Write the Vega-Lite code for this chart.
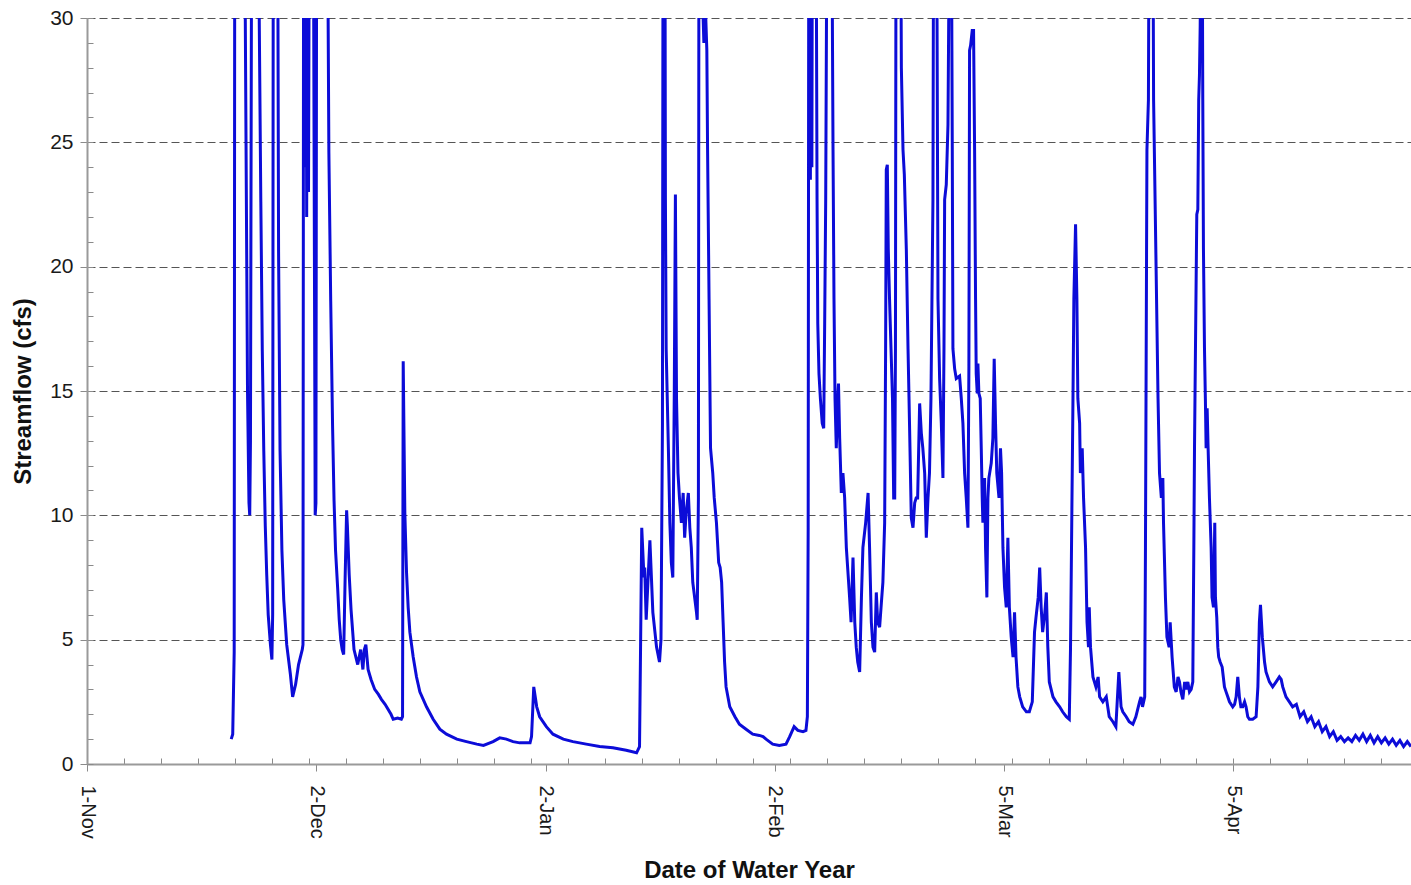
{
  "$schema": "https://vega.github.io/schema/vega-lite/v6.json",
  "width": 1324,
  "height": 746,
  "autosize": {"type": "none"},
  "padding": {"left": 87, "top": 18, "right": 0, "bottom": 121},
  "background": "white",
  "config": {"view": {"stroke": null}, "font": "Liberation Sans"},
  "data": {"values": [
    {"day":19.5,"flow":1.0},{"day":19.7,"flow":1.2},{"day":19.9,"flow":4.5},{"day":20.0,"flow":45},{"day":20.5,"flow":50},{"day":21.0,"flow":45},
    {"day":21.3,"flow":35},{"day":21.5,"flow":25},{"day":21.7,"flow":15},{"day":21.9,"flow":10.5},{"day":22.0,"flow":10},{"day":22.1,"flow":13},
    {"day":22.3,"flow":40},{"day":22.8,"flow":45},{"day":23.2,"flow":33},{"day":23.3,"flow":29.5},{"day":23.5,"flow":22.6},{"day":23.7,"flow":16.6},
    {"day":23.9,"flow":12.6},{"day":24.1,"flow":9.6},{"day":24.3,"flow":7.6},{"day":24.5,"flow":6.0},{"day":24.8,"flow":4.8},{"day":25.0,"flow":4.2},
    {"day":25.1,"flow":6},{"day":25.2,"flow":40},{"day":25.5,"flow":50},{"day":25.8,"flow":32},{"day":25.9,"flow":20.6},{"day":26.1,"flow":12.6},
    {"day":26.35,"flow":8.6},{"day":26.6,"flow":6.6},{"day":27.0,"flow":4.8},{"day":27.5,"flow":3.6},{"day":27.8,"flow":2.7},{"day":28.2,"flow":3.2},
    {"day":28.6,"flow":4.0},{"day":29.1,"flow":4.6},{"day":29.2,"flow":4.8},{"day":29.3,"flow":40},{"day":29.5,"flow":24},{"day":29.6,"flow":40},
    {"day":29.7,"flow":22},{"day":29.8,"flow":38},{"day":29.95,"flow":23},{"day":30.1,"flow":40},{"day":30.3,"flow":45},{"day":30.6,"flow":35},
    {"day":30.75,"flow":20},{"day":30.85,"flow":10},{"day":30.95,"flow":10.5},{"day":31.05,"flow":35},{"day":31.3,"flow":45},{"day":32.0,"flow":50},
    {"day":32.5,"flow":35},{"day":32.6,"flow":30},{"day":32.7,"flow":24.6},{"day":32.95,"flow":18.6},{"day":33.2,"flow":13.6},{"day":33.4,"flow":10.6},
    {"day":33.6,"flow":8.6},{"day":33.9,"flow":7.0},{"day":34.1,"flow":5.8},{"day":34.3,"flow":5.0},{"day":34.5,"flow":4.6},{"day":34.7,"flow":4.4},
    {"day":34.9,"flow":7.5},{"day":35.1,"flow":10.2},{"day":35.2,"flow":9.6},{"day":35.45,"flow":7.6},{"day":35.7,"flow":6.2},{"day":36.1,"flow":4.6},
    {"day":36.6,"flow":4.0},{"day":37.0,"flow":4.6},{"day":37.3,"flow":3.8},{"day":37.5,"flow":4.6},{"day":37.7,"flow":4.8},{"day":38.0,"flow":3.8},
    {"day":38.4,"flow":3.4},{"day":38.9,"flow":3.0},{"day":39.4,"flow":2.8},{"day":39.8,"flow":2.6},{"day":40.3,"flow":2.4},{"day":40.7,"flow":2.2},
    {"day":41.1,"flow":2.0},{"day":41.4,"flow":1.8},{"day":42.0,"flow":1.85},{"day":42.5,"flow":1.8},{"day":42.66,"flow":1.9},{"day":42.75,"flow":16.2},
    {"day":42.97,"flow":10.1},{"day":43.2,"flow":7.7},{"day":43.42,"flow":6.3},{"day":43.65,"flow":5.3},{"day":44.1,"flow":4.3},{"day":44.55,"flow":3.5},
    {"day":45.0,"flow":2.9},{"day":45.9,"flow":2.3},{"day":46.8,"flow":1.8},{"day":47.7,"flow":1.4},{"day":48.6,"flow":1.2},{"day":50.0,"flow":1.0},
    {"day":51.3,"flow":0.9},{"day":52.7,"flow":0.8},{"day":53.6,"flow":0.75},{"day":54.9,"flow":0.9},{"day":55.8,"flow":1.05},{"day":56.7,"flow":1.0},
    {"day":57.6,"flow":0.9},{"day":58.5,"flow":0.85},{"day":59.9,"flow":0.85},{"day":60.1,"flow":1.1},{"day":60.4,"flow":3.1},{"day":60.8,"flow":2.3},
    {"day":61.2,"flow":1.9},{"day":62.1,"flow":1.5},{"day":63.0,"flow":1.2},{"day":64.4,"flow":1.0},{"day":65.7,"flow":0.9},{"day":67.5,"flow":0.8},
    {"day":69.3,"flow":0.7},{"day":71.1,"flow":0.65},{"day":72.9,"flow":0.55},{"day":74.3,"flow":0.45},{"day":74.7,"flow":0.7},{"day":74.85,"flow":5},
    {"day":75.0,"flow":9.5},{"day":75.3,"flow":7.5},{"day":75.4,"flow":7.9},{"day":75.6,"flow":5.8},{"day":76.1,"flow":9.0},{"day":76.5,"flow":6.1},
    {"day":77.0,"flow":4.7},{"day":77.4,"flow":4.1},{"day":77.6,"flow":5.0},{"day":77.8,"flow":13.7},{"day":77.9,"flow":40},{"day":78.1,"flow":45},
    {"day":78.15,"flow":32},{"day":78.2,"flow":22.7},{"day":78.3,"flow":16.7},{"day":78.6,"flow":12.7},{"day":78.8,"flow":9.7},{"day":79.0,"flow":8.1},
    {"day":79.2,"flow":7.5},{"day":79.4,"flow":15},{"day":79.55,"flow":22.9},{"day":79.7,"flow":14.7},{"day":79.9,"flow":11.7},{"day":80.1,"flow":10.7},
    {"day":80.36,"flow":9.7},{"day":80.6,"flow":10.9},{"day":80.8,"flow":9.1},{"day":81.0,"flow":10.1},{"day":81.3,"flow":10.9},{"day":81.5,"flow":9.5},
    {"day":81.7,"flow":8.7},{"day":81.9,"flow":7.3},{"day":82.4,"flow":6.1},{"day":82.5,"flow":5.8},{"day":82.66,"flow":10.7},{"day":82.75,"flow":40},
    {"day":83.0,"flow":45},{"day":83.2,"flow":31},{"day":83.4,"flow":29},{"day":83.6,"flow":30.5},{"day":83.8,"flow":28.7},{"day":83.9,"flow":24.7},
    {"day":84.1,"flow":18.7},{"day":84.3,"flow":12.7},{"day":84.6,"flow":11.7},{"day":84.8,"flow":10.7},{"day":85.1,"flow":9.7},{"day":85.4,"flow":8.1},
    {"day":85.6,"flow":7.9},{"day":85.8,"flow":7.3},{"day":86.0,"flow":5.7},{"day":86.2,"flow":4.1},{"day":86.4,"flow":3.1},{"day":86.9,"flow":2.3},
    {"day":87.6,"flow":1.9},{"day":88.2,"flow":1.6},{"day":89.1,"flow":1.4},{"day":90.0,"flow":1.2},{"day":90.9,"flow":1.15},{"day":91.4,"flow":1.1},
    {"day":91.8,"flow":1.0},{"day":92.7,"flow":0.8},{"day":93.6,"flow":0.75},{"day":94.5,"flow":0.8},{"day":95.0,"flow":1.1},{"day":95.6,"flow":1.5},
    {"day":96.1,"flow":1.35},{"day":96.8,"flow":1.3},{"day":97.2,"flow":1.35},{"day":97.39,"flow":1.9},{"day":97.5,"flow":9.5},{"day":97.6,"flow":40},
    {"day":97.75,"flow":45},{"day":97.8,"flow":23.5},{"day":97.9,"flow":38},{"day":98.0,"flow":24},{"day":98.1,"flow":40},{"day":98.3,"flow":45},
    {"day":98.6,"flow":32},{"day":98.7,"flow":22.7},{"day":98.8,"flow":17.7},{"day":98.96,"flow":15.7},{"day":99.15,"flow":14.7},{"day":99.4,"flow":13.7},
    {"day":99.6,"flow":13.5},{"day":99.73,"flow":17.7},{"day":99.87,"flow":22.7},{"day":100.05,"flow":35},{"day":100.4,"flow":45},{"day":100.7,"flow":33},
    {"day":100.77,"flow":30},{"day":100.86,"flow":24.7},{"day":100.99,"flow":18.7},{"day":101.13,"flow":14.7},{"day":101.3,"flow":12.7},{"day":101.53,"flow":14.9},
    {"day":101.6,"flow":15.3},{"day":101.76,"flow":13.1},{"day":101.98,"flow":10.9},{"day":102.2,"flow":11.7},{"day":102.43,"flow":10.7},{"day":102.66,"flow":8.7},
    {"day":102.88,"flow":7.7},{"day":103.1,"flow":6.7},{"day":103.3,"flow":5.7},{"day":103.56,"flow":8.3},{"day":103.8,"flow":5.7},{"day":104.0,"flow":4.7},
    {"day":104.2,"flow":4.1},{"day":104.46,"flow":3.7},{"day":104.7,"flow":6.7},{"day":104.9,"flow":8.7},{"day":105.27,"flow":9.7},{"day":105.6,"flow":10.9},
    {"day":105.8,"flow":8.7},{"day":106.04,"flow":5.7},{"day":106.26,"flow":4.7},{"day":106.49,"flow":4.5},{"day":106.71,"flow":6.9},{"day":106.9,"flow":5.7},
    {"day":107.16,"flow":5.5},{"day":107.4,"flow":6.5},{"day":107.6,"flow":7.3},{"day":107.84,"flow":9.7},{"day":107.97,"flow":16.7},{"day":108.06,"flow":23.9},
    {"day":108.2,"flow":24.1},{"day":108.33,"flow":20.7},{"day":108.5,"flow":18.7},{"day":108.7,"flow":16.7},{"day":108.9,"flow":14.7},{"day":109.06,"flow":10.7},
    {"day":109.2,"flow":10.7},{"day":109.3,"flow":16.7},{"day":109.4,"flow":40},{"day":109.7,"flow":45},{"day":110.0,"flow":35},{"day":110.1,"flow":28},
    {"day":110.32,"flow":24.7},{"day":110.5,"flow":23.7},{"day":110.77,"flow":20.7},{"day":111.0,"flow":16.7},{"day":111.2,"flow":13.7},{"day":111.44,"flow":9.9},
    {"day":111.67,"flow":9.5},{"day":111.9,"flow":10.5},{"day":112.1,"flow":10.7},{"day":112.3,"flow":10.7},{"day":112.57,"flow":14.5},{"day":112.8,"flow":13.3},
    {"day":113.0,"flow":12.7},{"day":113.25,"flow":11.7},{"day":113.47,"flow":9.1},{"day":113.7,"flow":10.7},{"day":113.9,"flow":11.7},{"day":114.1,"flow":14.7},
    {"day":114.37,"flow":22.7},{"day":114.46,"flow":35},{"day":114.7,"flow":40},{"day":114.9,"flow":32},{"day":115.05,"flow":18.7},{"day":115.27,"flow":15.5},
    {"day":115.5,"flow":13.7},{"day":115.72,"flow":11.5},{"day":115.86,"flow":16.7},{"day":115.95,"flow":22.7},{"day":116.17,"flow":23.3},{"day":116.4,"flow":25.7},
    {"day":116.62,"flow":35},{"day":116.85,"flow":35},{"day":116.98,"flow":25},{"day":117.07,"flow":16.7},{"day":117.3,"flow":15.9},{"day":117.52,"flow":15.5},
    {"day":117.97,"flow":15.6},{"day":118.2,"flow":14.7},{"day":118.42,"flow":13.7},{"day":118.65,"flow":11.7},{"day":118.87,"flow":10.7},{"day":119.1,"flow":9.5},
    {"day":119.23,"flow":16},{"day":119.32,"flow":28.7},{"day":119.46,"flow":28.9},{"day":119.68,"flow":29.5},{"day":119.86,"flow":29.5},{"day":120.0,"flow":24.7},
    {"day":120.13,"flow":18.7},{"day":120.22,"flow":15.7},{"day":120.36,"flow":14.9},{"day":120.45,"flow":16.1},{"day":120.58,"flow":14.9},{"day":120.76,"flow":14.7},
    {"day":120.9,"flow":12.7},{"day":121.03,"flow":10.7},{"day":121.12,"flow":9.7},{"day":121.35,"flow":11.5},{"day":121.48,"flow":8.7},{"day":121.66,"flow":6.7},
    {"day":121.8,"flow":10.7},{"day":121.93,"flow":11.5},{"day":122.25,"flow":12.1},{"day":122.47,"flow":13.1},{"day":122.65,"flow":16.3},{"day":122.83,"flow":13.7},
    {"day":123.0,"flow":11.7},{"day":123.3,"flow":10.7},{"day":123.5,"flow":12.7},{"day":123.65,"flow":11.7},{"day":123.83,"flow":8.7},{"day":124.05,"flow":7.1},
    {"day":124.28,"flow":6.3},{"day":124.5,"flow":9.1},{"day":124.6,"flow":7.7},{"day":124.7,"flow":6.3},{"day":124.95,"flow":5.1},{"day":125.2,"flow":4.3},
    {"day":125.4,"flow":6.1},{"day":125.6,"flow":4.3},{"day":125.85,"flow":3.1},{"day":126.1,"flow":2.7},{"day":126.5,"flow":2.3},{"day":127.0,"flow":2.1},
    {"day":127.4,"flow":2.1},{"day":127.8,"flow":2.5},{"day":128.1,"flow":5.3},{"day":128.3,"flow":5.9},{"day":128.6,"flow":6.7},{"day":128.8,"flow":7.9},
    {"day":129.0,"flow":6.3},{"day":129.2,"flow":5.3},{"day":129.5,"flow":6.1},{"day":129.7,"flow":6.9},{"day":129.9,"flow":4.7},{"day":130.1,"flow":3.3},
    {"day":130.6,"flow":2.7},{"day":131.0,"flow":2.5},{"day":131.5,"flow":2.3},{"day":131.9,"flow":2.1},{"day":132.4,"flow":1.9},{"day":132.8,"flow":1.8},
    {"day":132.97,"flow":4.7},{"day":133.3,"flow":14.7},{"day":133.42,"flow":18.7},{"day":133.65,"flow":21.7},{"day":133.83,"flow":18.7},{"day":133.96,"flow":14.7},
    {"day":134.2,"flow":13.7},{"day":134.3,"flow":11.7},{"day":134.55,"flow":12.7},{"day":134.73,"flow":10.7},{"day":135.0,"flow":8.7},{"day":135.2,"flow":5.7},
    {"day":135.4,"flow":4.7},{"day":135.5,"flow":6.3},{"day":135.67,"flow":4.7},{"day":136.0,"flow":3.5},{"day":136.4,"flow":3.1},{"day":136.7,"flow":3.5},
    {"day":136.9,"flow":2.7},{"day":137.34,"flow":2.5},{"day":137.8,"flow":2.7},{"day":138.2,"flow":1.9},{"day":138.7,"flow":1.7},{"day":139.1,"flow":1.5},
    {"day":139.5,"flow":3.7},{"day":139.8,"flow":2.3},{"day":140.04,"flow":2.1},{"day":140.5,"flow":1.9},{"day":140.9,"flow":1.7},{"day":141.4,"flow":1.6},
    {"day":141.8,"flow":1.9},{"day":142.3,"flow":2.5},{"day":142.5,"flow":2.7},{"day":142.7,"flow":2.3},{"day":143.0,"flow":2.7},{"day":143.1,"flow":8.7},
    {"day":143.3,"flow":24.7},{"day":143.5,"flow":26.7},{"day":143.6,"flow":35},{"day":143.9,"flow":40},{"day":144.1,"flow":35},{"day":144.2,"flow":26.7},
    {"day":144.5,"flow":20.7},{"day":144.8,"flow":14.7},{"day":145.0,"flow":11.7},{"day":145.25,"flow":10.7},{"day":145.45,"flow":11.5},{"day":145.54,"flow":9.7},
    {"day":145.8,"flow":6.7},{"day":146.0,"flow":5.1},{"day":146.3,"flow":4.7},{"day":146.44,"flow":5.7},{"day":146.7,"flow":4.3},{"day":147.0,"flow":3.1},
    {"day":147.25,"flow":2.9},{"day":147.5,"flow":3.5},{"day":147.7,"flow":3.3},{"day":147.9,"flow":2.9},{"day":148.15,"flow":2.6},{"day":148.4,"flow":3.3},
    {"day":148.6,"flow":3.0},{"day":148.83,"flow":3.3},{"day":149.05,"flow":2.9},{"day":149.28,"flow":3.0},{"day":149.5,"flow":3.3},{"day":149.64,"flow":8.7},
    {"day":149.73,"flow":12.7},{"day":149.86,"flow":16.7},{"day":150.04,"flow":22.1},{"day":150.18,"flow":22.3},{"day":150.3,"flow":26.7},{"day":150.4,"flow":27.7},
    {"day":150.5,"flow":29.7},{"day":150.63,"flow":35},{"day":150.76,"flow":35},{"day":150.85,"flow":26.7},{"day":150.94,"flow":20.7},{"day":151.08,"flow":16.7},
    {"day":151.2,"flow":14.7},{"day":151.3,"flow":12.7},{"day":151.44,"flow":14.3},{"day":151.57,"flow":12.7},{"day":151.75,"flow":10.7},{"day":151.98,"flow":8.7},
    {"day":152.1,"flow":6.7},{"day":152.3,"flow":6.3},{"day":152.47,"flow":9.7},{"day":152.56,"flow":6.7},{"day":152.74,"flow":5.9},{"day":152.88,"flow":4.7},
    {"day":153.0,"flow":4.3},{"day":153.2,"flow":4.1},{"day":153.47,"flow":3.9},{"day":153.78,"flow":3.1},{"day":154.0,"flow":2.9},{"day":154.23,"flow":2.7},
    {"day":154.46,"flow":2.5},{"day":154.9,"flow":2.3},{"day":155.15,"flow":2.4},{"day":155.36,"flow":2.7},{"day":155.58,"flow":3.5},{"day":155.8,"flow":2.7},
    {"day":156.0,"flow":2.3},{"day":156.25,"flow":2.3},{"day":156.5,"flow":2.5},{"day":156.7,"flow":2.3},{"day":156.93,"flow":1.9},{"day":157.16,"flow":1.8},
    {"day":157.6,"flow":1.8},{"day":158.06,"flow":1.9},{"day":158.3,"flow":3.1},{"day":158.5,"flow":5.7},{"day":158.65,"flow":6.4},{"day":158.9,"flow":5.1},
    {"day":159.2,"flow":4.1},{"day":159.4,"flow":3.7},{"day":159.86,"flow":3.3},{"day":160.3,"flow":3.1},{"day":160.76,"flow":3.3},{"day":161.2,"flow":3.5},
    {"day":161.45,"flow":3.4},{"day":161.66,"flow":3.1},{"day":162.1,"flow":2.7},{"day":162.56,"flow":2.5},{"day":163.0,"flow":2.3},{"day":163.5,"flow":2.4},
    {"day":164.0,"flow":1.9},{"day":164.5,"flow":2.1},{"day":165.0,"flow":1.7},{"day":165.5,"flow":1.9},{"day":166.0,"flow":1.5},{"day":166.5,"flow":1.7},
    {"day":167.0,"flow":1.3},{"day":167.5,"flow":1.5},{"day":168.0,"flow":1.1},{"day":168.5,"flow":1.3},{"day":169.0,"flow":0.95},{"day":169.5,"flow":1.1},
    {"day":170.0,"flow":0.9},{"day":170.5,"flow":1.05},{"day":171.0,"flow":0.9},{"day":171.5,"flow":1.15},{"day":172.0,"flow":0.95},{"day":172.5,"flow":1.2},
    {"day":173.0,"flow":0.9},{"day":173.5,"flow":1.15},{"day":174.0,"flow":0.85},{"day":174.5,"flow":1.1},{"day":175.0,"flow":0.85},{"day":175.5,"flow":1.05},
    {"day":176.0,"flow":0.8},{"day":176.5,"flow":1.0},{"day":177.0,"flow":0.75},{"day":177.5,"flow":0.95},{"day":178.0,"flow":0.7},{"day":178.5,"flow":0.9},
    {"day":179.0,"flow":0.7}
  ]},
  "layer": [
    {
      "mark": {"type": "line", "strokeOpacity": 0, "clip": true},
      "encoding": {
        "x": {"field": "day", "type": "quantitative",
              "scale": {"domain": [0, 179], "nice": false, "zero": false},
              "axis": {"orient": "bottom", "values": [0,5,10,15,20,25,30,35,40,45,50,55,60,65,70,75,80,85,90,95,100,105,110,115,120,125,130,135,140,145,150,155,160,165,170,175],
                       "labels": false, "tickSize": -6, "tickColor": "#8a8a8a", "tickWidth": 1, "domain": false, "grid": false, "title": null}},
        "y": {"field": "flow", "type": "quantitative",
              "scale": {"domain": [0, 30], "nice": false, "zero": true},
              "axis": {"orient": "left", "values": [0,1,2,3,4,5,6,7,8,9,10,11,12,13,14,15,16,17,18,19,20,21,22,23,24,25,26,27,28,29,30],
                       "labels": false, "tickSize": -6, "tickColor": "#8a8a8a", "tickWidth": 1, "domain": false, "grid": false, "title": null}}
      }
    },
    {
      "mark": {"type": "line", "color": "#0c0cd8", "strokeWidth": 3, "clip": true},
      "encoding": {
        "x": {"field": "day", "type": "quantitative",
              "scale": {"domain": [0, 179], "nice": false, "zero": false},
              "axis": {"orient": "bottom", "values": [0, 31, 62, 93, 124, 155],
                       "labelExpr": "datum.value == 0 ? '1-Nov' : datum.value == 31 ? '2-Dec' : datum.value == 62 ? '2-Jan' : datum.value == 93 ? '2-Feb' : datum.value == 124 ? '5-Mar' : '5-Apr'",
                       "labelAngle": 90, "labelAlign": "left", "labelBaseline": "middle", "labelFontSize": 20, "labelColor": "#1a1a1a", "labelPadding": 14,
                       "tickSize": 7, "tickColor": "#8a8a8a", "domainColor": "#9a9a9a", "domainWidth": 2, "grid": false,
                       "title": "Date of Water Year", "titleFontSize": 24, "titleFontWeight": "bold", "titleColor": "#111111", "titlePadding": 20}},
        "y": {"field": "flow", "type": "quantitative",
              "scale": {"domain": [0, 30], "nice": false, "zero": true},
              "axis": {"orient": "left", "values": [0, 5, 10, 15, 20, 25, 30],
                       "labelFontSize": 21, "labelColor": "#1a1a1a", "labelPadding": 7,
                       "tickSize": 7, "tickColor": "#8a8a8a", "domainColor": "#9a9a9a", "domainWidth": 2,
                       "grid": true, "gridDash": [8, 4], "gridColor": "#555555", "gridWidth": 1,
                       "title": "Streamflow (cfs)", "titleFontSize": 24, "titleFontWeight": "bold", "titleColor": "#111111", "titlePadding": 14}}
      }
    }
  ],
  "resolve": {"axis": {"x": "independent", "y": "independent"}}
}
